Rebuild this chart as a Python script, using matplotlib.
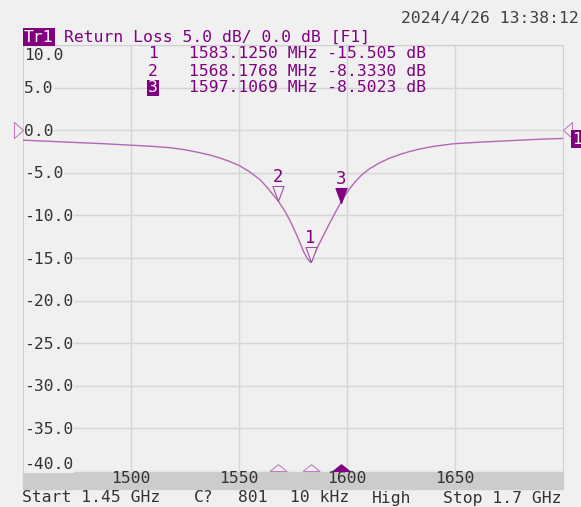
import matplotlib.pyplot as plt
from matplotlib.patches import Rectangle

# trace data (MHz, dB)
freq_mhz = [1450, 1462, 1475, 1487, 1500, 1510, 1518, 1525, 1532, 1537, 1541,
            1546, 1550.5, 1555, 1559.7, 1563, 1568.18, 1571, 1573.6, 1576,
            1578.2, 1580, 1581.5, 1582.5, 1583.125, 1584, 1585, 1586, 1587,
            1588, 1590, 1592, 1594.5, 1597.11, 1599, 1601.4, 1604, 1607,
            1610.6, 1615.3, 1620, 1624.5, 1629, 1633.8, 1640, 1649, 1661.6,
            1670, 1680, 1690, 1700]
return_loss = [-1.17, -1.3, -1.45, -1.58, -1.76, -1.9, -2.05, -2.3, -2.65, -2.95,
               -3.25, -3.7, -4.2, -4.9, -5.8, -6.7, -8.33, -9.4, -10.6, -11.9,
               -13.2, -14.3, -15.0, -15.35, -15.5, -15.1, -14.5, -13.9, -13.4,
               -12.9, -11.9, -10.9, -9.7, -8.5, -7.7, -6.8, -6.0, -5.2,
               -4.5, -3.8, -3.25, -2.85, -2.5, -2.2, -1.9, -1.6, -1.4,
               -1.3, -1.17, -1.05, -0.97]

marker_ids = ["1", "2", "3"]
marker_freq = [1583.1250, 1568.1768, 1597.1069]
marker_db = [-15.505, -8.3330, -8.5023]
active_marker = "3"

y_ticks = [10, 5, 0, -5, -10, -15, -20, -25, -30, -35, -40]
x_ticks = [1500, 1550, 1600, 1650]

PURPLE = "#800080"
TRACE = "#b366b3"
BG = "#f0f0f0"
GRID = "#d6d6d6"
FONT = "DejaVu Sans Mono"
FS = 11.8

W, H = 581, 507


def fx(px):
    return px / W


def fy(py):
    return 1 - py / H


fig = plt.figure(figsize=(W / 100, H / 100), dpi=100, facecolor=BG)
ax = fig.add_axes([fx(23), fy(471), (563 - 23) / W, (471 - 45) / H])
ax.set_facecolor(BG)
ax.set_xlim(1450, 1700)
ax.set_ylim(-40, 10)

ax.set_yticks(y_ticks)
ax.set_yticklabels([])
ax.set_xticks(x_ticks)
ax.set_xticklabels([str(t) for t in x_ticks], fontsize=FS, family=FONT, color="#333333")
ax.tick_params(length=0, pad=0)
ax.grid(True, color=GRID, linewidth=1)
ax.set_axisbelow(True)
for side in ["left", "top", "right"]:
    ax.spines[side].set_color("#cfcfcf")
ax.spines["bottom"].set_visible(False)

# gray frequency band under the grid
fig.patches.append(Rectangle((fx(23), fy(489)), (563 - 23) / W, (489 - 472) / H,
                             transform=fig.transFigure, color="#cccccc", zorder=-1))

# y labels inside the grid
for v in y_ticks:
    off = -5.5
    if v == 10:
        off = -14.5
    elif v == -40:
        off = 1.5
    ax.annotate(f"{v:.1f}", xy=(1450, v), xytext=(1, off), textcoords="offset pixels",
                va="baseline", ha="left", fontsize=FS, family=FONT, color="#333333",
                bbox=dict(facecolor=BG, edgecolor="none", pad=0.3), zorder=3)

# trace
ax.plot(freq_mhz, return_loss, color=TRACE, linewidth=1.0, zorder=4)

# markers on trace
down_tri = [(0, 0), (-0.37, 1), (0.37, 1), (0, 0)]
up_tri = [(-1, 0), (1, 0), (0, 0.8), (-1, 0)]
for mid, f, d in zip(marker_ids, marker_freq, marker_db):
    active = mid == active_marker
    face = PURPLE if active else BG
    edge = PURPLE if active else "#a050a0"
    ax.plot(f, d, marker=down_tri, markersize=21.6, markerfacecolor=face,
            markeredgecolor=edge, markeredgewidth=0.8, zorder=5)
    ax.annotate(mid, xy=(f, d), xytext=(0, 19), textcoords="offset pixels",
                ha="center", va="baseline", fontsize=FS + 0.5, family=FONT,
                color=PURPLE, zorder=6)
    ax.plot(f, -40, marker=up_tri, markersize=12.2,
            markerfacecolor=PURPLE if active else BG,
            markeredgecolor=PURPLE if active else "#c080c0",
            markeredgewidth=0.8, clip_on=False, zorder=5)

# reference level triangles
ax.plot(1450, 0, marker=[(0, 0), (-0.56, 0.5), (-0.56, -0.5), (0, 0)], markersize=13,
        markerfacecolor="none", markeredgecolor="#c080c0", markeredgewidth=0.8,
        clip_on=False, zorder=5)
ax.plot(1700, 0, marker=[(0, 0), (0.56, 0.5), (0.56, -0.5), (0, 0)], markersize=13,
        markerfacecolor="none", markeredgecolor="#c080c0", markeredgewidth=0.8,
        clip_on=False, zorder=5)
fig.text(fx(572), fy(139), "1", fontsize=FS, family=FONT, color="white",
         va="center", ha="left", bbox=dict(facecolor=PURPLE, edgecolor="none", pad=0.8))

# header
fig.text(fx(579), fy(18), "2024/4/26 13:38:12", fontsize=FS, family=FONT,
         color="#404040", ha="right", va="center")
fig.text(fx(24), fy(37), "Tr1", fontsize=FS, family=FONT, color="white",
         ha="left", va="center", bbox=dict(facecolor=PURPLE, edgecolor="none", pad=0.8))
fig.text(fx(64), fy(37), "Return Loss 5.0 dB/ 0.0 dB [F1]", fontsize=FS,
         family=FONT, color=PURPLE, ha="left", va="center")

# marker table
row_y = [53, 71, 88]
for mid, f, d, ry in zip(marker_ids, marker_freq, marker_db, row_y):
    if mid == active_marker:
        fig.text(fx(153), fy(ry), mid, fontsize=FS, family=FONT, color="white",
                 ha="center", va="center",
                 bbox=dict(facecolor=PURPLE, edgecolor="none", pad=0.6))
    else:
        fig.text(fx(153), fy(ry), mid, fontsize=FS, family=FONT, color=PURPLE,
                 ha="center", va="center")
    dtxt = f"{d:.3f}" if abs(d) >= 10 else f"{d:.4f}"
    fig.text(fx(189), fy(ry), f"{f:.4f} MHz {dtxt} dB", fontsize=FS, family=FONT,
             color=PURPLE, ha="left", va="center")

# footer
footer = [(22, "Start 1.45 GHz"), (194, "C?"), (238, "801"), (290, "10 kHz"),
          (372, "High"), (443, "Stop 1.7 GHz")]
for px, txt in footer:
    fig.text(fx(px), fy(498), txt, fontsize=FS, family=FONT, color="#333333",
             ha="left", va="center")

fig.savefig("out.png", dpi=100, facecolor=BG)
